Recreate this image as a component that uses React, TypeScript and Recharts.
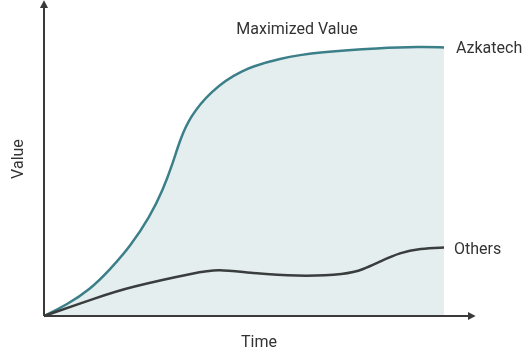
import {
  ComposedChart,
  Area,
  Line,
  XAxis,
  YAxis,
  LabelList,
  Customized,
} from "recharts";

// time positions and values (value axis 0–100)
const azkatechTime = [0, 5.75, 11.5, 16.5, 21.5, 26.5, 29.75, 32.25, 34, 36.5, 41.5, 49, 59, 69, 84, 94, 100];
const azkatechValue = [0, 3.7, 8.6, 15.1, 22.5, 32.3, 41, 49.8, 57.2, 64.7, 72.8, 79.9, 83.8, 85.7, 87, 87.4, 87.2];

const othersTime = [0, 14, 20.75, 39, 43.5, 50.75, 63.25, 75.75, 79.75, 84, 89, 94, 100];
const othersValue = [0, 6.3, 9.2, 14.4, 15.1, 14.1, 12.8, 13.5, 15.1, 17.7, 20.6, 21.9, 22.2];

const azkatechData = azkatechTime.map((t, i) => ({ t, value: azkatechValue[i] }));
const othersData = othersTime.map((t, i) => ({ t, value: othersValue[i] }));

const TEXT = "#333333";
const FONT = "Roboto, 'Noto Sans', sans-serif";

function endLabel(name: string, count: number, dx: number) {
  return (props: any) => {
    if (props.index !== count - 1) return null;
    return (
      <text
        x={props.x + dx}
        y={props.y + 6}
        fill={TEXT}
        fontSize={16}
        fontFamily={FONT}
      >
        {name}
      </text>
    );
  };
}

function Titles() {
  return (
    <g fontFamily={FONT} fontSize={16} fill={TEXT}>
      <text x={297} y={34} textAnchor="middle">
        Maximized Value
      </text>
      <text x={259} y={347} textAnchor="middle">
        Time
      </text>
      <text x={23} y={159} textAnchor="middle" transform="rotate(-90 23 159)">
        Value
      </text>
    </g>
  );
}

export default function App() {
  return (
    <div style={{ position: "fixed", left: 0, top: 0, width: 523, height: 361 }}>
      <ComposedChart
        width={523}
        height={361}
        margin={{ top: 8, right: 55, bottom: 0, left: 0 }}
      >
        <defs>
          <marker
            id="arrow"
            viewBox="0 0 10 10"
            refX={0}
            refY={5}
            markerWidth={9}
            markerHeight={10}
            markerUnits="userSpaceOnUse"
            orient="auto-start-reverse"
          >
            <path d="M0,0.5 L8.5,5 L0,9.5 z" fill="#3a3a3a" />
          </marker>
        </defs>
        <XAxis
          dataKey="t"
          type="number"
          domain={[0, 106]}
          height={45}
          tick={false}
          tickLine={false}
          axisLine={{ stroke: "#3a3a3a", strokeWidth: 2, markerEnd: "url(#arrow)" }}
          allowDuplicatedCategory={false}
        />
        <YAxis
          type="number"
          domain={[0, 100]}
          width={44}
          tick={false}
          tickLine={false}
          axisLine={{ stroke: "#3a3a3a", strokeWidth: 2, markerStart: "url(#arrow)" }}
        />
        <Area
          data={azkatechData}
          dataKey="value"
          type="basis"
          stroke="#3b7f89"
          strokeWidth={2.5}
          fill="#e5eeee"
          fillOpacity={1}
          isAnimationActive={false}
        >
          <LabelList dataKey="value" content={endLabel("Azkatech", azkatechData.length, 12)} />
        </Area>
        <Line
          data={othersData}
          dataKey="value"
          type="basis"
          stroke="#3a3d3d"
          strokeWidth={2.5}
          dot={false}
          isAnimationActive={false}
        >
          <LabelList dataKey="value" content={endLabel("Others", othersData.length, 10)} />
        </Line>
        <Customized component={Titles} />
      </ComposedChart>
    </div>
  );
}
